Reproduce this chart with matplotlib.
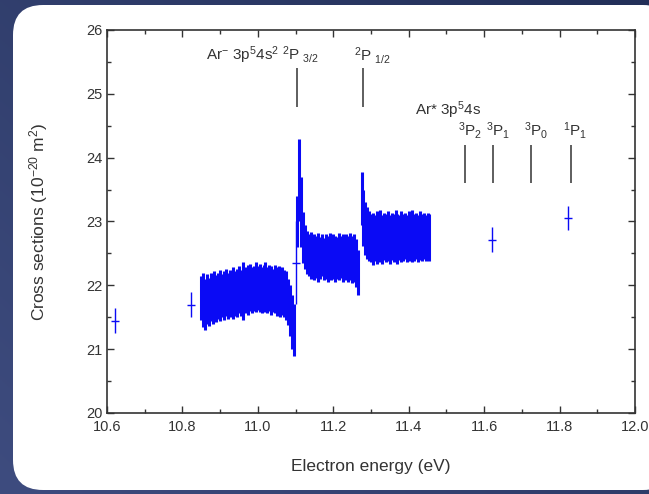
import numpy as np
import matplotlib.pyplot as plt
from matplotlib.patches import FancyBboxPatch
from matplotlib.ticker import MultipleLocator, FormatStrFormatter

plt.rcParams['font.family'] = ['Liberation Sans', 'DejaVu Sans']
plt.rcParams['mathtext.default'] = 'regular'

# --- scan below the first threshold (eV, 1e-20 m^2) ---
e1 = [10.850, 10.855, 10.860, 10.865, 10.870, 10.875, 10.880, 10.885, 10.890, 10.895,
      10.900, 10.905, 10.910, 10.915, 10.920, 10.925, 10.930, 10.935, 10.940, 10.945,
      10.950, 10.955, 10.960, 10.965, 10.970, 10.975, 10.980, 10.985, 10.990, 10.995,
      11.000, 11.005, 11.010, 11.015, 11.020, 11.025, 11.030, 11.035, 11.040, 11.045,
      11.050, 11.055, 11.060, 11.065, 11.070, 11.075, 11.080, 11.085, 11.090, 11.095]
hi1 = [22.15, 22.20, 22.10, 22.18, 22.12, 22.20, 22.14, 22.22, 22.16, 22.20,
       22.24, 22.18, 22.22, 22.26, 22.20, 22.24, 22.22, 22.28, 22.22, 22.26,
       22.30, 22.24, 22.36, 22.28, 22.26, 22.32, 22.34, 22.28, 22.30, 22.36,
       22.30, 22.34, 22.28, 22.32, 22.36, 22.28, 22.32, 22.30, 22.26, 22.32,
       22.28, 22.30, 22.26, 22.28, 22.24, 22.22, 22.10, 22.00, 21.85, 21.70]
lo1 = [21.45, 21.35, 21.30, 21.40, 21.36, 21.44, 21.40, 21.46, 21.42, 21.48,
       21.44, 21.50, 21.46, 21.52, 21.48, 21.50, 21.54, 21.48, 21.52, 21.50,
       21.56, 21.52, 21.46, 21.56, 21.58, 21.54, 21.60, 21.56, 21.60, 21.58,
       21.62, 21.58, 21.56, 21.62, 21.58, 21.56, 21.60, 21.54, 21.58, 21.56,
       21.52, 21.56, 21.50, 21.54, 21.50, 21.46, 21.38, 21.20, 21.00, 20.90]

# --- between the two 2P thresholds ---
e2 = [11.105, 11.110, 11.115, 11.120, 11.125, 11.130, 11.135, 11.140, 11.145, 11.150,
      11.155, 11.160, 11.165, 11.170, 11.175, 11.180, 11.185, 11.190, 11.195, 11.200,
      11.205, 11.210, 11.215, 11.220, 11.225, 11.230, 11.235, 11.240, 11.245, 11.250,
      11.255, 11.260, 11.265]
hi2 = [23.40, 24.30, 23.70, 23.15, 22.95, 22.85, 22.80, 22.84, 22.76, 22.80,
       22.78, 22.82, 22.76, 22.80, 22.74, 22.80, 22.78, 22.82, 22.76, 22.80,
       22.78, 22.76, 22.82, 22.78, 22.80, 22.76, 22.80, 22.78, 22.82, 22.78,
       22.80, 22.72, 22.55]
lo2 = [22.60, 23.00, 22.60, 22.35, 22.25, 22.18, 22.14, 22.10, 22.14, 22.08,
       22.12, 22.06, 22.10, 22.14, 22.08, 22.10, 22.06, 22.12, 22.08, 22.10,
       22.06, 22.10, 22.08, 22.12, 22.06, 22.08, 22.10, 22.06, 22.08, 22.04,
       22.06, 21.98, 21.85]

# --- above the 2P1/2 threshold ---
e3 = [11.275, 11.280, 11.285, 11.290, 11.295, 11.300, 11.305, 11.310, 11.315, 11.320,
      11.325, 11.330, 11.335, 11.340, 11.345, 11.350, 11.355, 11.360, 11.365, 11.370,
      11.375, 11.380, 11.385, 11.390, 11.395, 11.400, 11.405, 11.410, 11.415, 11.420,
      11.425, 11.430, 11.435, 11.440, 11.445, 11.450, 11.455]
hi3 = [23.78, 23.50, 23.30, 23.22, 23.16, 23.12, 23.14, 23.10, 23.16, 23.12,
       23.18, 23.10, 23.14, 23.12, 23.16, 23.10, 23.14, 23.12, 23.18, 23.12,
       23.10, 23.16, 23.12, 23.14, 23.10, 23.16, 23.12, 23.18, 23.12, 23.14,
       23.10, 23.16, 23.12, 23.14, 23.10, 23.14, 23.12]
lo3 = [22.95, 22.62, 22.48, 22.42, 22.38, 22.36, 22.32, 22.38, 22.34, 22.40,
       22.36, 22.34, 22.40, 22.36, 22.38, 22.34, 22.40, 22.36, 22.38, 22.34,
       22.40, 22.36, 22.38, 22.42, 22.36, 22.38, 22.40, 22.36, 22.38, 22.42,
       22.36, 22.40, 22.38, 22.42, 22.38, 22.40, 22.38]

# single measurements with error bars
e_pts = [10.622, 10.823, 11.100, 11.622, 11.823]
lo_pts = [21.25, 21.50, 21.70, 22.52, 22.86]
hi_pts = [21.64, 21.89, 23.00, 22.91, 23.24]

# threshold positions
anion_E = [11.104, 11.279]
anion_span = (24.8, 25.4)
excited_E = [11.550, 11.624, 11.725, 11.830]
excited_span = (23.6, 24.2)
excited_lab = [r'$^{3}$P$_{2}$', r'$^{3}$P$_{1}$', r'$^{3}$P$_{0}$', r'$^{1}$P$_{1}$']

W, H = 649, 494
fig = plt.figure(figsize=(W / 100, H / 100), dpi=100)

# dark slide background + white rounded card
bg = fig.add_axes([0, 0, 1, 1])
grad = np.linspace(0, 1, 256)
gx, gy = np.meshgrid(grad, grad)
shade = 0.55 * gx + 0.45 * (1 - gy)
c_light = np.array([0x3e, 0x4c, 0x7f]) / 255
c_dark = np.array([0x22, 0x2f, 0x58]) / 255
img = c_light[None, None, :] * (1 - shade[..., None]) + c_dark[None, None, :] * shade[..., None]
bg.imshow(img, extent=[0, W, 0, H], origin='upper', aspect='auto')
bg.add_patch(FancyBboxPatch((13, 4), 660, 485,
                            boxstyle='round,pad=0,rounding_size=30',
                            fc='white', ec='none'))
bg.set_xlim(0, W)
bg.set_ylim(0, H)
bg.axis('off')

ax = fig.add_axes([107 / W, 81 / H, 528 / W, 383 / H])
blue = '#0a0af5'
for e, lo, hi in [(e1, lo1, hi1), (e2, lo2, hi2), (e3, lo3, hi3)]:
    ax.vlines(e, lo, hi, color=blue, lw=2.2)

c_pts = [(a + b) / 2 for a, b in zip(lo_pts, hi_pts)]
err = [(b - a) / 2 for a, b in zip(lo_pts, hi_pts)]
ax.errorbar(e_pts, c_pts, yerr=err, fmt='_', color=blue, ms=6, lw=1.0,
            elinewidth=1.0, capsize=0)

ax.vlines(anion_E, *anion_span, color='#333333', lw=1.1)
ax.vlines(excited_E, *excited_span, color='#333333', lw=1.1)

tc = '#333333'
ax.text(10.863, 25.6, r'Ar$^{-}$ 3p$^{5}$4s$^{2}$ $^{2}$P$_{\ 3/2}$', ha='left',
        va='center', fontsize=11, color=tc)
ax.text(11.256, 25.6, r'$^{2}$P$_{\ 1/2}$', ha='left', va='center', fontsize=11, color=tc)
ax.text(11.417, 24.75, r'Ar* 3p$^{5}$4s', ha='left', va='center', fontsize=11, color=tc)
for e, lab in zip(excited_E, excited_lab):
    ax.text(e - 0.020, 24.43, lab, ha='left', va='center', fontsize=11, color=tc)

ax.set_xlim(10.6, 12.0)
ax.set_ylim(20, 26)
ax.xaxis.set_major_locator(MultipleLocator(0.2))
ax.xaxis.set_minor_locator(MultipleLocator(0.1))
ax.xaxis.set_major_formatter(FormatStrFormatter('%.1f'))
ax.yaxis.set_major_locator(MultipleLocator(1))
ax.yaxis.set_minor_locator(MultipleLocator(0.5))
ax.tick_params(which='both', direction='in', top=True, right=True, colors='#333333',
               labelcolor=tc, labelsize=10.5, width=1.0)
ax.tick_params(which='major', length=5, pad=3)
ax.tick_params(axis='x', which='major', pad=5)
ax.tick_params(which='minor', length=3)
for s in ax.spines.values():
    s.set_color('#333333')
    s.set_linewidth(1.2)

ax.set_xlabel('Electron energy (eV)', fontsize=12.5, color=tc, labelpad=18)
ax.set_ylabel(r'Cross sections (10$^{-20}$ m$^{2}$)', fontsize=12.5, color=tc, labelpad=26)

fig.savefig('out.png', dpi=100)
